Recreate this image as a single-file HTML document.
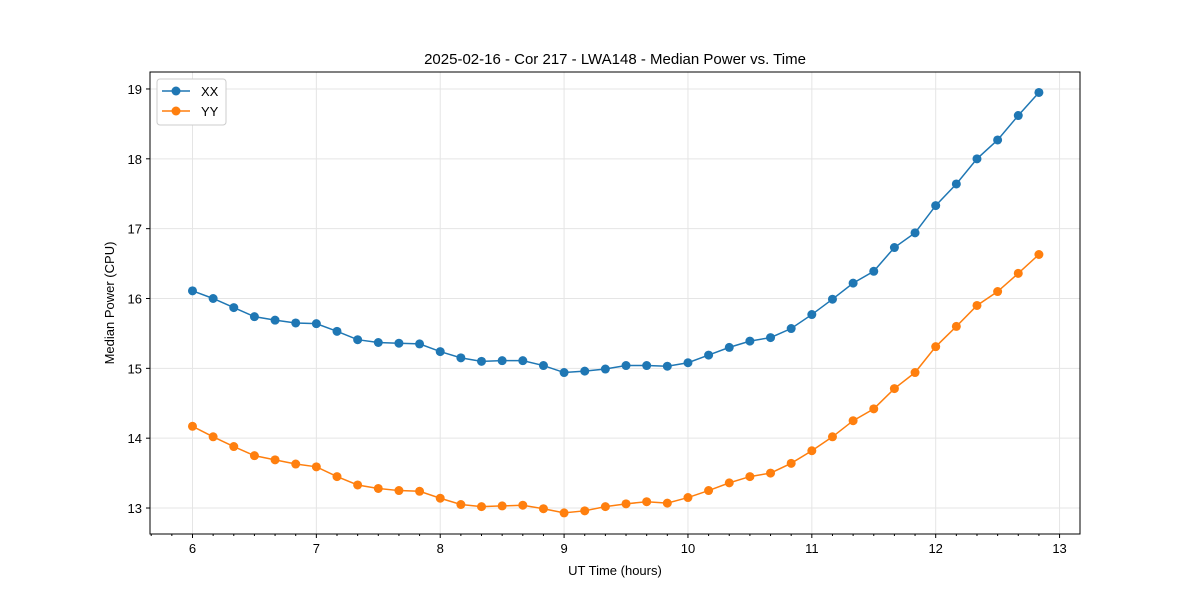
<!DOCTYPE html>
<html><head><meta charset="utf-8"><style>
body{margin:0;background:#fff;}
svg{font-family:"Liberation Sans","DejaVu Sans",sans-serif;}
</style></head><body>
<svg id="chart" width="1200" height="600">
<text x="615" y="64" text-anchor="middle" font-size="15">2025-02-16 - Cor 217 - LWA148 - Median Power vs. Time</text>
<g id="grid"></g><g id="axes"></g><g id="series"></g>
<rect x="150" y="72" width="930" height="462" fill="none" stroke="#000" stroke-width="1"/>
<text x="615" y="575" text-anchor="middle" font-size="13">UT Time (hours)</text>
<text transform="translate(114,303) rotate(-90)" text-anchor="middle" font-size="13">Median Power (CPU)</text>
<g>
<rect x="157" y="79" width="69" height="46" fill="#fff" stroke="#ccc" rx="3"/>
<g><line x1="162" y1="91" x2="190" y2="91" stroke="#1f77b4" stroke-width="1.5"/><circle cx="176" cy="91" r="4.5" fill="#1f77b4"/><text x="201" y="96" font-size="13">XX</text></g>
<g><line x1="162" y1="111" x2="190" y2="111" stroke="#ff7f0e" stroke-width="1.5"/><circle cx="176" cy="111" r="4.5" fill="#ff7f0e"/><text x="201" y="116" font-size="13">YY</text></g>
</g>
</svg>
<script>
const xxValues=[16.11,16.00,15.87,15.74,15.69,15.65,15.64,15.53,15.41,15.37,15.36,15.35,15.24,15.15,15.10,15.11,15.11,15.04,14.94,14.96,14.99,15.04,15.04,15.03,15.08,15.19,15.30,15.39,15.44,15.57,15.77,15.99,16.22,16.39,16.73,16.94,17.33,17.64,18.00,18.27,18.62,18.95];
const yyValues=[14.17,14.02,13.88,13.75,13.69,13.63,13.59,13.45,13.33,13.28,13.25,13.24,13.14,13.05,13.02,13.03,13.04,12.99,12.93,12.96,13.02,13.06,13.09,13.07,13.15,13.25,13.36,13.45,13.50,13.64,13.82,14.02,14.25,14.42,14.71,14.94,15.31,15.60,15.90,16.10,16.36,16.63];
const startHour=6, stepHours=1/6;
const xTicks=[6,7,8,9,10,11,12,13];
const yTicks=[13,14,15,16,17,18,19];
const NS="http://www.w3.org/2000/svg";
const X0=5.657, X1=13.165;
const x=v=>150+(v-X0)/(X1-X0)*930;
const y=v=>534-(v-12.628)/(19.243-12.628)*462;
function mk(tag,attrs,parent){const e=document.createElementNS(NS,tag);for(const k in attrs)e.setAttribute(k,attrs[k]);parent.appendChild(e);return e;}
const grid=document.getElementById('grid'),axes=document.getElementById('axes'),ser=document.getElementById('series');
xTicks.forEach(t=>{
 const g=mk('line',{x1:x(t),x2:x(t),y1:72,y2:534,stroke:'#e5e5e5','stroke-width':1},grid);
 
 
 mk('line',{x1:x(t),x2:x(t),y1:534,y2:538,stroke:'#000'},axes);
 const l=mk('text',{x:x(t),y:553,'text-anchor':'middle','font-size':13},axes);l.textContent=t;
 
 
});
for(let k=-2;k<=43;k++){const m=6+k/6;if(m<X0||m>X1)continue;if(k%6!==0)mk('line',{x1:x(m),x2:x(m),y1:534,y2:536,stroke:'#000'},axes);}
yTicks.forEach(t=>{
 const g=mk('line',{x1:150,x2:1080,y1:y(t),y2:y(t),stroke:'#e5e5e5','stroke-width':1},grid);
 
 
 mk('line',{x1:146,x2:150,y1:y(t),y2:y(t),stroke:'#000'},axes);
 const l=mk('text',{x:142,y:y(t)+5,'text-anchor':'end','font-size':13},axes);l.textContent=t;
 
 
});
function draw(vals,color,name){
 const pts=vals.map((v,i)=>x(startHour+i*stepHours)+','+y(v)).join(' ');
 const pl=mk('polyline',{points:pts,fill:'none',stroke:color,'stroke-width':1.5},ser);
 
 
 vals.forEach((v,i)=>{const c=mk('circle',{cx:x(startHour+i*stepHours),cy:y(v),r:4.5,fill:color},ser);
  
  });
}
draw(xxValues,'#1f77b4','xx');
draw(yyValues,'#ff7f0e','yy');
</script>
</body></html>
